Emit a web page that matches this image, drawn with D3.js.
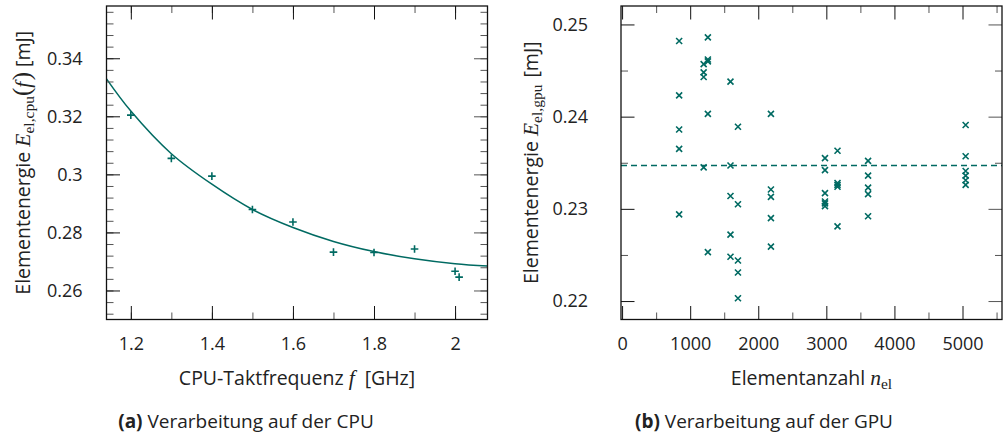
<!DOCTYPE html>
<html><head><meta charset="utf-8">
<script src="https://cdn.jsdelivr.net/npm/d3@7"></script>
<style>
body{margin:0;background:#fff}
svg{display:block}
text{font-family:"Open Sans",sans-serif;fill:#222}
</style></head><body>
<svg id="chart" width="1003" height="442"></svg>
<script>
// (a) CPU: element energy per clock frequency
const cpuFreq   = [1.2, 1.3, 1.4, 1.5, 1.6, 1.7, 1.8, 1.9, 2.0, 2.01];
const cpuEnergy = [0.3204, 0.3055, 0.2994, 0.2879, 0.2836, 0.2732, 0.2731, 0.2743, 0.2666, 0.2646];
// fitted trend curve
const fitFreq   = [1.14, 1.2, 1.3, 1.4, 1.5, 1.6, 1.7, 1.8, 1.9, 2.0, 2.08];
const fitEnergy = [0.3329, 0.3218, 0.3071, 0.2966, 0.2879, 0.2817, 0.2769, 0.2734, 0.2709, 0.2692, 0.2684];
const cpuXTicks = [1.2, 1.4, 1.6, 1.8, 2.0];
const cpuYTicks = [0.26, 0.28, 0.30, 0.32, 0.34];

// (b) GPU: element energy per element count
const gpuCount = [
  838, 838, 838, 838, 838,
  1198, 1198, 1198, 1198,
  1260, 1260, 1260, 1260, 1260,
  1592, 1592, 1592, 1592, 1592,
  1702, 1702, 1702, 1702, 1702,
  2186, 2186, 2186, 2186, 2186,
  2980, 2980, 2980, 2980, 2980, 2980,
  3164, 3164, 3164, 3164, 3164,
  3613, 3613, 3613, 3613, 3613,
  5046, 5046, 5046, 5046, 5046, 5046
];
const gpuEnergy = [
  0.2482, 0.2423, 0.2386, 0.2365, 0.2294,
  0.2457, 0.2448, 0.2443, 0.2345,
  0.2486, 0.2462, 0.2460, 0.2403, 0.2253,
  0.2438, 0.2347, 0.2314, 0.2272, 0.2248,
  0.2389, 0.2305, 0.2244, 0.2231, 0.2203,
  0.2403, 0.2321, 0.2313, 0.2290, 0.2259,
  0.2355, 0.2342, 0.2317, 0.2308, 0.2306, 0.2303,
  0.2363, 0.2328, 0.2326, 0.2324, 0.2281,
  0.2352, 0.2336, 0.2323, 0.2316, 0.2292,
  0.2391, 0.2357, 0.2341, 0.2336, 0.2331, 0.2326
];
const gpuMean = 0.2347;
const gpuXTicks = [0, 1000, 2000, 3000, 4000, 5000];
const gpuYTicks = [0.22, 0.23, 0.24, 0.25];

const TEAL = "#006a62";
const FS = 18;      // tick labels
const LS = 19.5;    // axis labels
const MS = 21.5;    // math letters
const SS = 15.5;    // subscripts
const svg = d3.select("#chart");

const MAJOR = 13.5, MINOR = 7;

function frameAxes(g, x, y, o) {
  const [x0, x1] = x.range(), [y0, y1] = y.range();
  const styleTicks = (sel, col) => {
    sel.select(".domain").remove();
    sel.selectAll("line").attr("stroke", col).attr("stroke-width", 1);
  };
  // minor ticks (all four sides)
  const minor = (axisFn, vals, tr) => g.append("g").attr("transform", tr)
      .call(axisFn.tickValues(vals).tickSize(-MINOR).tickFormat(""))
      .call(s => styleTicks(s, "#555"));
  minor(d3.axisBottom(x), o.xMinor, `translate(0,${y0})`);
  minor(d3.axisTop(x), o.xMinor, `translate(0,${y1})`);
  minor(d3.axisLeft(y), o.yMinor, `translate(${x0},0)`);
  minor(d3.axisRight(y), o.yMinor, `translate(${x1},0)`);
  // major ticks with labels
  const lab = sel => sel.selectAll("text")
      .attr("font-family", "'Open Sans', sans-serif").attr("font-size", FS).attr("fill", "#222");
  g.append("g").attr("transform", `translate(0,${y0})`)
    .call(d3.axisBottom(x).tickValues(o.xTicks).tickSize(-MAJOR).tickPadding(18).tickFormat(String))
    .call(s => styleTicks(s, "#111")).call(lab);
  g.append("g").attr("transform", `translate(0,${y1})`)
    .call(d3.axisTop(x).tickValues(o.xTicks).tickSize(-MAJOR).tickFormat(""))
    .call(s => styleTicks(s, "#111"));
  g.append("g").attr("transform", `translate(${x0},0)`)
    .call(d3.axisLeft(y).tickValues(o.yTicks).tickSize(-MAJOR).tickPadding(o.yPad).tickFormat(String))
    .call(s => styleTicks(s, "#111")).call(lab);
  g.append("g").attr("transform", `translate(${x1},0)`)
    .call(d3.axisRight(y).tickValues(o.yTicks).tickSize(-MAJOR).tickFormat(""))
    .call(s => styleTicks(s, "#555"));
  g.append("rect").attr("x", x0).attr("y", y1).attr("width", x1 - x0).attr("height", y0 - y1)
    .attr("fill", "none").attr("stroke", "#111").attr("stroke-width", 1.3);
}

// text with mixed sans / math parts
function richText(sel, parts) {
  parts.forEach(p => {
    const t = sel.append("tspan").text(p.t);
    if (p.math) t.attr("font-family", "'Liberation Serif', 'Times New Roman', serif");
    if (p.it) t.attr("font-style", "italic");
    if (p.bold) t.attr("font-weight", "bold");
    t.attr("font-size", p.size || LS);
    if (p.dy) t.attr("dy", p.dy);
    if (p.dx) t.attr("dx", p.dx);
  });
  return sel;
}

/* ---------- (a) CPU ---------- */
const xa = d3.scaleLinear().domain([1.14, 2.08]).range([106.5, 487.5]);
const ya = d3.scaleLinear().domain([0.25, 0.358]).range([319.5, 6]);
const ga = svg.append("g");

ga.append("path")
  .datum(d3.zip(fitFreq, fitEnergy))
  .attr("fill", "none").attr("stroke", TEAL).attr("stroke-width", 1.5)
  .attr("d", d3.line().x(d => xa(d[0])).y(d => ya(d[1])).curve(d3.curveCatmullRom));

ga.selectAll("path.pt").data(d3.zip(cpuFreq, cpuEnergy)).join("path")
  .attr("class", "pt")
  .attr("transform", d => `translate(${xa(d[0])},${ya(d[1])})`)
  .attr("d", "M-3.8,0H3.8M0,-3.8V3.8")
  .attr("stroke", TEAL).attr("stroke-width", 1.6).attr("fill", "none");

frameAxes(ga, xa, ya, {
  xTicks: cpuXTicks, yTicks: cpuYTicks, yPad: 24,
  xMinor: d3.range(1.2, 2.09, 0.1).map(v => +v.toFixed(2)),
  yMinor: d3.range(0.252, 0.358, 0.004).map(v => +v.toFixed(3))
});

richText(ga.append("text").attr("text-anchor", "middle")
  .attr("transform", "translate(30,162.75) rotate(-90)"), [
  {t: "Elementenergie "},
  {t: "E", math: true, it: true, size: MS},
  {t: "el,cpu", math: true, size: SS, dy: 4},
  {t: "(", math: true, size: 25, dy: -4},
  {t: "f", math: true, it: true, size: MS},
  {t: ")", math: true, size: 25, dx: 1.5},
  {t: " [mJ]"}
]);
richText(ga.append("text").attr("text-anchor", "middle").attr("x", 297).attr("y", 385), [
  {t: "CPU-Taktfrequenz "},
  {t: "f", math: true, it: true, size: MS},
  {t: " [GHz]", dx: 5}
]);
richText(ga.append("text").attr("text-anchor", "middle").attr("x", 246).attr("y", 428), [
  {t: "(a)", bold: true, size: 19},
  {t: " Verarbeitung auf der CPU", size: 19}
]);

/* ---------- (b) GPU ---------- */
const xb = d3.scaleLinear().domain([-16, 5580]).range([621, 1002]);
const yb = d3.scaleLinear().domain([0.218, 0.252]).range([319.5, 6]);
const gb = svg.append("g");

gb.append("line")
  .attr("x1", xb.range()[0]).attr("x2", xb.range()[1])
  .attr("y1", yb(gpuMean)).attr("y2", yb(gpuMean))
  .attr("stroke", TEAL).attr("stroke-width", 1.5).attr("stroke-dasharray", "6,4");

gb.selectAll("path.pt").data(d3.zip(gpuCount, gpuEnergy)).join("path")
  .attr("class", "pt")
  .attr("transform", d => `translate(${xb(d[0])},${yb(d[1])})`)
  .attr("d", "M-3,-3L3,3M-3,3L3,-3")
  .attr("stroke", TEAL).attr("stroke-width", 1.6).attr("fill", "none");

frameAxes(gb, xb, yb, {
  xTicks: gpuXTicks, yTicks: gpuYTicks, yPad: 33,
  xMinor: d3.range(500, 5600, 1000),
  yMinor: [0.225, 0.235, 0.245]
});

richText(gb.append("text").attr("text-anchor", "middle")
  .attr("transform", "translate(538,162.75) rotate(-90)"), [
  {t: "Elementenergie "},
  {t: "E", math: true, it: true, size: MS},
  {t: "el,gpu", math: true, size: SS, dy: 4},
  {t: " [mJ]", dy: -4, dx: 2}
]);
richText(gb.append("text").attr("text-anchor", "middle").attr("x", 811.5).attr("y", 385), [
  {t: "Elementanzahl "},
  {t: "n", math: true, it: true, size: MS},
  {t: "el", math: true, size: SS, dy: 4}
]);
richText(gb.append("text").attr("text-anchor", "middle").attr("x", 764).attr("y", 428), [
  {t: "(b)", bold: true, size: 19},
  {t: " Verarbeitung auf der GPU", size: 19}
]);
</script>
</body></html>
